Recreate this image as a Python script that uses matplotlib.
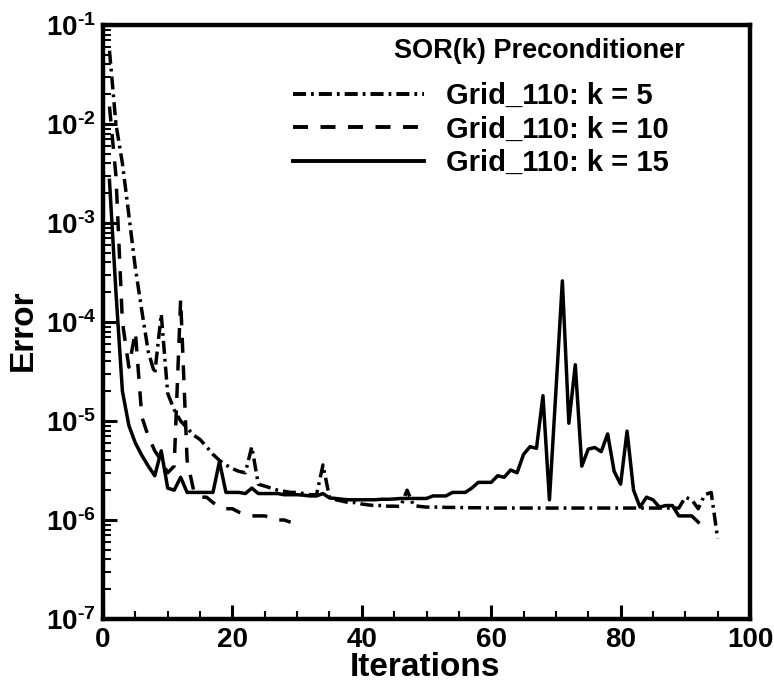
import matplotlib
matplotlib.use("Agg")
import matplotlib.pyplot as plt
import numpy as np
from matplotlib.ticker import FixedLocator, MultipleLocator, NullFormatter

plt.rcParams['font.family'] = ['Liberation Sans', 'DejaVu Sans']
plt.rcParams['font.weight'] = 'bold'
plt.rcParams['mathtext.fontset'] = 'custom'
plt.rcParams['mathtext.rm'] = 'Liberation Sans:bold'
plt.rcParams['mathtext.it'] = 'Liberation Sans:bold'
plt.rcParams['mathtext.bf'] = 'Liberation Sans:bold'
plt.rcParams['lines.scale_dashes'] = False

# ---------------- data ----------------
k5_iter = list(range(1, 96))
k5_err = [5.5e-2, 1.0e-2, 4.0e-3, 1.2e-3, 3.5e-4, 1.3e-4, 5.0e-5, 3.0e-5, 1.2e-4, 1.9e-5,
          1.3e-5, 1.0e-5, 8.5e-6, 7.2e-6, 6.5e-6, 5.5e-6, 4.6e-6, 4.0e-6, 3.6e-6, 3.3e-6,
          3.1e-6, 3.0e-6, 5.5e-6, 2.3e-6, 2.2e-6, 2.1e-6, 2.0e-6, 1.95e-6, 1.9e-6, 1.9e-6,
          1.85e-6, 1.8e-6, 1.8e-6, 3.6e-6, 1.7e-6, 1.6e-6, 1.55e-6, 1.5e-6, 1.5e-6, 1.45e-6,
          1.42e-6, 1.4e-6, 1.4e-6, 1.38e-6, 1.38e-6, 1.37e-6, 2.0e-6, 1.4e-6, 1.37e-6, 1.35e-6,
          1.35e-6, 1.35e-6, 1.34e-6, 1.34e-6, 1.34e-6, 1.33e-6, 1.33e-6, 1.33e-6, 1.33e-6, 1.32e-6,
          1.32e-6, 1.32e-6, 1.32e-6, 1.32e-6, 1.32e-6, 1.32e-6, 1.32e-6, 1.32e-6, 1.32e-6, 1.32e-6,
          1.32e-6, 1.32e-6, 1.32e-6, 1.32e-6, 1.32e-6, 1.32e-6, 1.32e-6, 1.32e-6, 1.32e-6, 1.32e-6,
          1.32e-6, 1.32e-6, 1.32e-6, 1.32e-6, 1.32e-6, 1.32e-6, 1.32e-6, 1.32e-6, 1.32e-6, 1.7e-6,
          1.6e-6, 1.3e-6, 1.8e-6, 1.9e-6, 6.5e-7]

k10_iter = list(range(1, 30))
k10_err = [1.5e-2, 3.0e-3, 1.0e-4, 3.5e-5, 8.0e-5, 1.1e-5, 7.0e-6, 5.0e-6, 4.0e-6, 3.0e-6,
           3.5e-6, 1.7e-4, 4.0e-6, 2.0e-6, 1.7e-6, 1.7e-6, 1.5e-6, 1.35e-6, 1.3e-6, 1.3e-6,
           1.2e-6, 1.15e-6, 1.1e-6, 1.1e-6, 1.1e-6, 1.05e-6, 1.0e-6, 1.0e-6, 9.5e-7]

k15_iter = list(range(1, 93))
k15_err = [2.7e-3, 2.0e-4, 2.0e-5, 9.0e-6, 6.0e-6, 4.5e-6, 3.5e-6, 2.8e-6, 5.0e-6, 2.1e-6,
           2.0e-6, 2.7e-6, 1.9e-6, 1.9e-6, 1.9e-6, 1.9e-6, 1.9e-6, 3.9e-6, 1.9e-6, 1.9e-6,
           1.9e-6, 1.85e-6, 2.1e-6, 1.85e-6, 1.85e-6, 1.85e-6, 1.85e-6, 1.8e-6, 1.8e-6, 1.8e-6,
           1.78e-6, 1.75e-6, 1.75e-6, 1.85e-6, 1.67e-6, 1.65e-6, 1.62e-6, 1.6e-6, 1.6e-6, 1.6e-6,
           1.6e-6, 1.6e-6, 1.62e-6, 1.62e-6, 1.63e-6, 1.65e-6, 1.65e-6, 1.65e-6, 1.65e-6, 1.65e-6,
           1.75e-6, 1.75e-6, 1.75e-6, 1.9e-6, 1.9e-6, 1.9e-6, 2.1e-6, 2.4e-6, 2.4e-6, 2.4e-6,
           2.8e-6, 2.7e-6, 3.2e-6, 3.0e-6, 4.6e-6, 5.5e-6, 5.3e-6, 1.8e-5, 1.6e-6, 2.0e-5,
           2.6e-4, 9.5e-6, 3.7e-5, 3.5e-6, 5.2e-6, 5.4e-6, 4.9e-6, 7.4e-6, 3.1e-6, 2.3e-6,
           7.9e-6, 2.0e-6, 1.35e-6, 1.7e-6, 1.6e-6, 1.35e-6, 1.4e-6, 1.4e-6, 1.1e-6, 1.1e-6,
           1.1e-6, 9.5e-7]

labels = ['Grid_110: k = 5', 'Grid_110: k = 10', 'Grid_110: k = 15']
legend_title = 'SOR(k) Preconditioner'
x_ticks = [0, 20, 40, 60, 80, 100]
y_ticks = [1e-7, 1e-6, 1e-5, 1e-4, 1e-3, 1e-2, 1e-1]
y_ticklabels = ['10$^{\\text{-7}}$', '10$^{\\text{-6}}$', '10$^{\\text{-5}}$', '10$^{\\text{-4}}$',
                '10$^{\\text{-3}}$', '10$^{\\text{-2}}$', '10$^{\\text{-1}}$']

# ---------------- figure ----------------
fig = plt.figure(figsize=(7.74, 6.86), dpi=100)
ax = fig.add_axes([103/774, 67/686, 647/774, 594/686])

lw = 2.5
ax.plot(k5_iter, k5_err, color='black', lw=lw, linestyle=(0, (9.4, 3.6, 2.0, 3.6)), label=labels[0])
ax.plot(k10_iter, k10_err, color='black', lw=lw, linestyle=(0, (10.8, 9.0)), label=labels[1])
ax.plot(k15_iter, k15_err, color='black', lw=lw, linestyle='-', label=labels[2])

ax.set_yscale('log')
ax.set_xlim(0, 100)
ax.set_ylim(1e-7, 1e-1)

ax.xaxis.set_major_locator(FixedLocator(x_ticks))
ax.xaxis.set_minor_locator(MultipleLocator(5))
ax.set_xticklabels([str(v) for v in x_ticks])
ax.yaxis.set_major_locator(FixedLocator(y_ticks))
ax.set_yticklabels(y_ticklabels)
ax.yaxis.set_minor_locator(matplotlib.ticker.LogLocator(base=10, subs=np.arange(2, 10), numticks=20))
ax.yaxis.set_minor_formatter(NullFormatter())

ax.tick_params(axis='both', which='major', direction='in', length=10, width=2.2,
               labelsize=20, pad=5, top=False, right=False)
ax.tick_params(axis='x', which='major', pad=6)
ax.tick_params(axis='both', which='minor', direction='in', length=6, width=1.5,
               top=False, right=False)
for lab in ax.get_xticklabels() + ax.get_yticklabels():
    lab.set_fontweight('bold')

for sp in ax.spines.values():
    sp.set_linewidth(3.2)

ax.set_xlabel('Iterations', fontsize=24, fontweight='bold')
ax.xaxis.set_label_coords(0.498, -0.056)
ax.set_ylabel('Error', fontsize=24, fontweight='bold')
ax.yaxis.set_label_coords(-0.100, 0.487)

fig.text(685/774, 1 - 51/686, legend_title, ha='right', va='center',
         fontsize=19.5, fontweight='bold')

leg = ax.legend(loc='upper left', bbox_to_anchor=(293/774, 1 - 82/686),
                bbox_transform=fig.transFigure, frameon=False,
                prop={'weight': 'bold', 'size': 21},
                handlelength=4.5, handletextpad=0.75, labelspacing=0.19,
                borderaxespad=0, borderpad=0)
for l in leg.get_lines():
    l.set_linewidth(2.8)

fig.savefig('out.png', dpi=100)
